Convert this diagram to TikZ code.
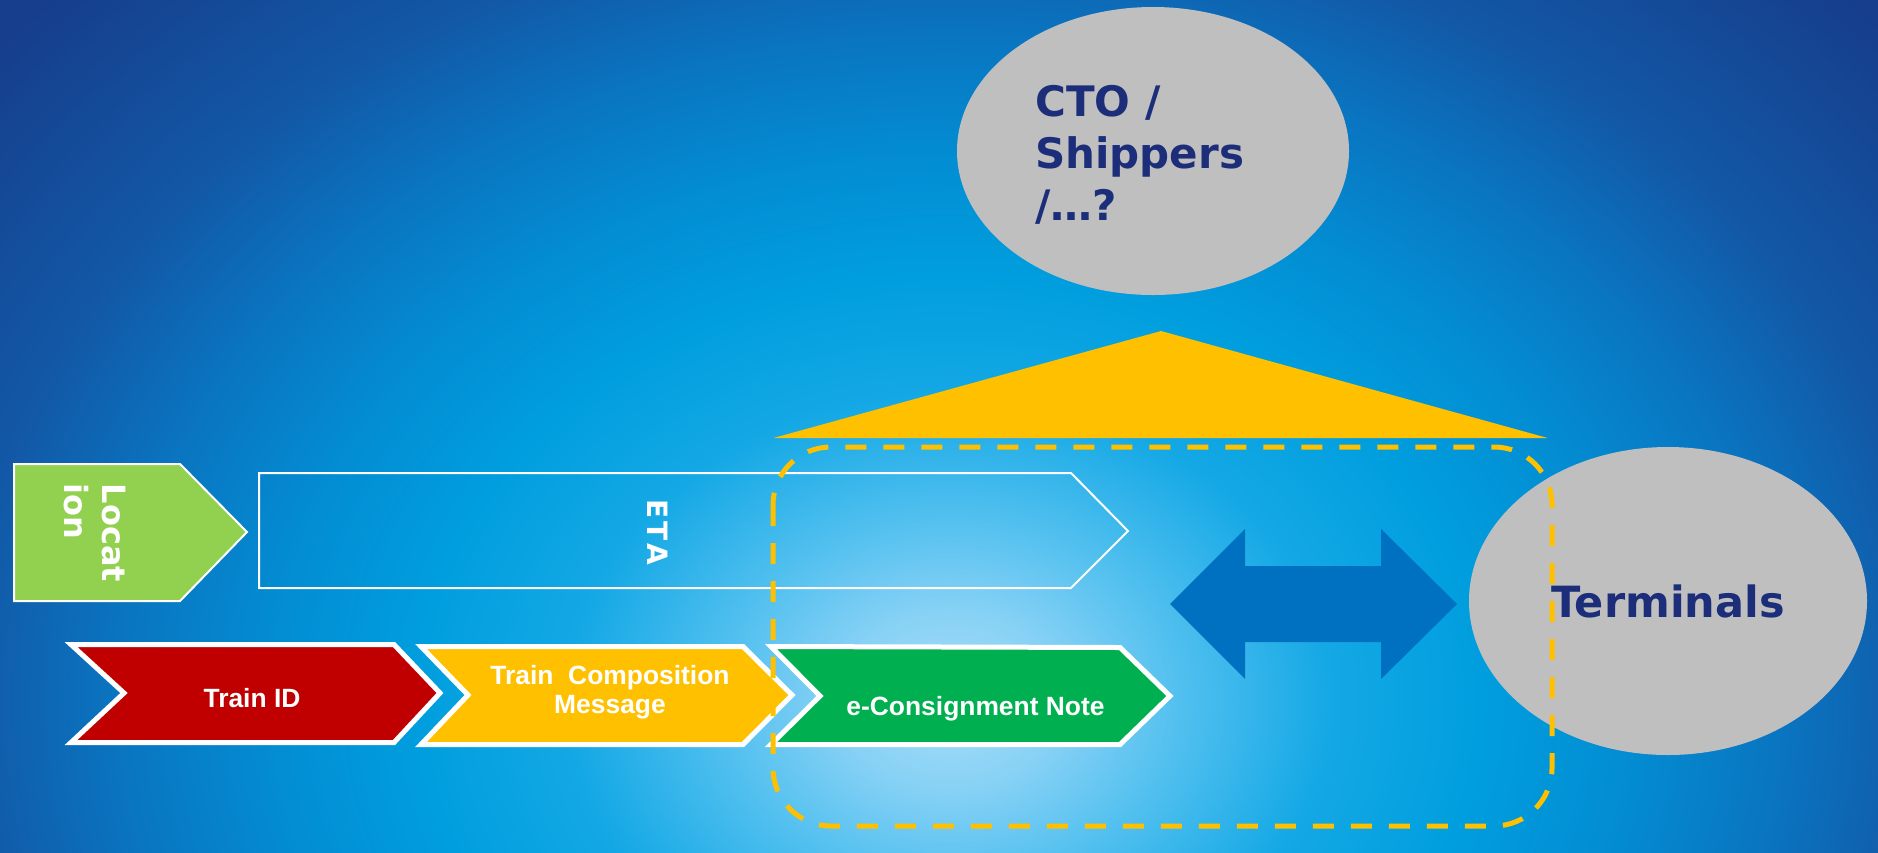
\documentclass[tikz,border=0pt]{standalone}
\usepackage{fontspec}
\setmainfont{DejaVu Sans}
\newfontfamily\arialfont{Liberation Sans}
\usetikzlibrary{shapes.geometric}
\definecolor{bg0}{HTML}{A8DEF8}
\definecolor{bg1}{HTML}{86D1F5}
\definecolor{bg2}{HTML}{52C0EF}
\definecolor{bg3}{HTML}{14A8E5}
\definecolor{bg4}{HTML}{009EDE}
\definecolor{bg5}{HTML}{038CD2}
\definecolor{bg6}{HTML}{0A74C0}
\definecolor{bg7}{HTML}{1258A6}
\definecolor{bg8}{HTML}{163E8C}
\definecolor{locgreen}{HTML}{92D050}
\definecolor{chred}{HTML}{C00000}
\definecolor{chyellow}{HTML}{FFC000}
\definecolor{chgreen}{HTML}{00B050}
\definecolor{ellgrey}{HTML}{BFBFBF}
\definecolor{navy}{RGB}{28,46,122}
\definecolor{arrowblue}{HTML}{0070C0}
\pgfdeclareradialshading{bgshade}{\pgfpoint{0bp}{0bp}}{color(0bp)=(bg0); color(3bp)=(bg1); color(6bp)=(bg2); color(10bp)=(bg3); color(14bp)=(bg4); color(18bp)=(bg5); color(22bp)=(bg6); color(26bp)=(bg7); color(33bp)=(bg8); color(50bp)=(bg8)}
\tikzset{
  chev/.style={draw=white, line width=5pt, line join=miter},
  chevtext/.style={text=white, font=\arialfont\bfseries\fontsize{26.4}{29}\selectfont, inner sep=0pt},
  bubble/.style={ellipse, fill=ellgrey, inner sep=0pt},
  bubbletext/.style={text=navy, font=\bfseries\fontsize{42}{52}\selectfont, inner sep=0pt},
  vertext/.style={text=white, rotate=-90, inner sep=0pt},
}
\begin{document}
\begin{tikzpicture}[x=1pt,y=-1pt]
\useasboundingbox (0,0) rectangle (1878,852);
\begin{scope}
  \clip (0,0) rectangle (1878,852);
  \shade[shading=bgshade] (0,-60) rectangle (1900,1460);
\end{scope}
% ETA arrow (outline only)
\draw[white, line width=2pt] (259,473) -- (1071,473) -- (1128,531) -- (1071,588) -- (259,588) -- cycle;
\node[vertext, font=\bfseries\fontsize{28}{30}\selectfont] (eta) at (658,532) {E\kern3pt T\kern3pt A};
% Location pentagon
\draw[white, line width=2pt, fill=locgreen] (14,464) -- (180,464) -- (247,532) -- (180,601) -- (14,601) -- cycle;
\node[vertext, align=left, font=\bfseries\fontsize{32}{38}\selectfont] (loc) at (95,533) {Locat\\ion};
% chevrons
\draw[chev, fill=chred] (71,644.5) -- (394,644.5) -- (440,693) -- (394,742.5) -- (71,742.5) -- (124,693) -- cycle;
\draw[chev, fill=chyellow] (421,646.5) -- (743,646.5) -- (792,695) -- (743,744.5) -- (421,744.5) -- (468,695) -- cycle;
\draw[chev, fill=chgreen] (771,646.5) -- (1120,647.5) -- (1170,696) -- (1120,744.5) -- (771,744.5) -- (820,696) -- cycle;
\node[chevtext] (trainid) at (252,698.5) {Train ID};
\node[chevtext, align=center] (tcm) at (610,692.5) {Train~ Composition\\Message};
\node[chevtext] (econ) at (975.5,709) {e-Consignment Note};
% roof triangle
\fill[chyellow] (773.5,438) -- (1161,331) -- (1547.6,438) -- cycle;
% CTO bubble
\node[bubble, minimum width=392pt, minimum height=288pt] (cto) at (1153,151) {};
\node[bubbletext, align=left, anchor=base west] (ctotext) at (1035,220) {CTO /\\Shippers\\/…?};
% double arrow
\fill[arrowblue] (1170,604) -- (1245,529) -- (1245,566) -- (1381,566) -- (1381,529) -- (1457,604) -- (1381,679) -- (1381,642) -- (1245,642) -- (1245,679) -- cycle;
% Terminals bubble
\node[bubble, minimum width=398pt, minimum height=308pt, text=navy, font=\bfseries\fontsize{43}{50}\selectfont] (term) at (1668,601) {Terminals};
% dashed boundary
\draw[chyellow, line width=5pt, dash pattern=on 21pt off 17pt, rounded corners=58pt] (773,447) rectangle (1552,826);
\end{tikzpicture}
\end{document}
